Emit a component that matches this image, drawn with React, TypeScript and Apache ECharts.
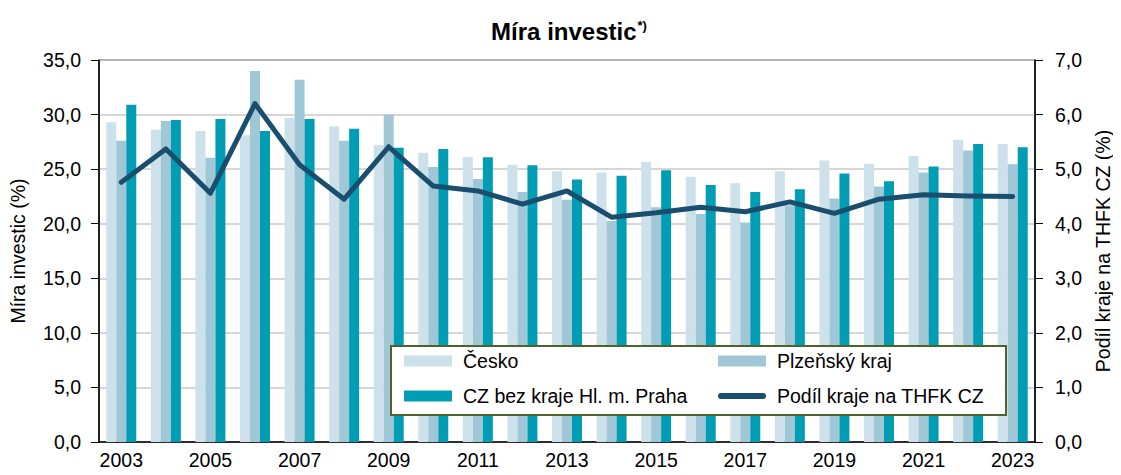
import React, { useEffect, useRef } from "react";
import * as echarts from "echarts";

const years = ["2003","2004","2005","2006","2007","2008","2009","2010","2011","2012","2013","2014","2015","2016","2017","2018","2019","2020","2021","2022","2023"];
const cesko = [29.3, 28.6, 28.5, 28.1, 29.7, 28.9, 27.2, 26.5, 26.1, 25.4, 24.8, 24.7, 25.65, 24.3, 23.7, 24.8, 25.8, 25.5, 26.2, 27.7, 27.3];
const plzen = [27.6, 29.4, 26.05, 34.0, 33.2, 27.6, 30.0, 25.2, 24.1, 22.9, 22.2, 20.25, 21.5, 20.9, 20.1, 21.7, 22.3, 23.4, 24.7, 26.7, 25.45];
const czBezPrahy = [30.9, 29.5, 29.6, 28.5, 29.6, 28.7, 26.95, 26.85, 26.1, 25.35, 24.05, 24.4, 24.9, 23.55, 22.9, 23.15, 24.6, 23.9, 25.25, 27.3, 27.0];
const podil = [4.76, 5.37, 4.56, 6.2, 5.08, 4.45, 5.41, 4.69, 4.6, 4.36, 4.6, 4.12, 4.2, 4.3, 4.22, 4.4, 4.19, 4.45, 4.53, 4.51, 4.5];

const FONT = "Liberation Sans, Arial, sans-serif";
const FS = 19.5;
const fmt = (v: number) => v.toFixed(1).replace(".", ",");

export default function App() {
  const ref = useRef<HTMLDivElement>(null);
  useEffect(() => {
    if (!ref.current) return;
    const chart = echarts.init(ref.current, null, { renderer: "svg" });
    const legendText = { fontSize: FS, color: "#000", padding: [0, 0, 0, 6], fontFamily: FONT };
    chart.setOption({
      animation: false,
      textStyle: { fontFamily: FONT },
      title: {
        text: "{a|Míra investic}{b|*)}",
        left: 564,
        textAlign: "center",
        top: 14,
        textStyle: {
          rich: {
            a: { fontSize: 24, fontWeight: "bold", color: "#000", fontFamily: FONT },
            b: { fontSize: 13, color: "#000", fontFamily: FONT, padding: [0, 0, 12, 1] },
          },
        },
      },
      grid: { left: 99, right: 78, top: 60, bottom: 33, show: true, borderColor: "#000", borderWidth: 1, backgroundColor: "transparent" },
      xAxis: {
        type: "category",
        data: years,
        axisLine: { lineStyle: { color: "#000", width: 1.5 } },
        axisTick: { show: false },
        axisLabel: { interval: 1, fontSize: FS, color: "#000", margin: 8, fontFamily: FONT },
      },
      yAxis: [
        {
          type: "value",
          min: 0,
          max: 35,
          interval: 5,
          name: "Míra investic (%)",
          nameLocation: "middle",
          nameGap: 71,
          nameTextStyle: { fontSize: FS, color: "#000", fontFamily: FONT },
          axisLine: { show: true, lineStyle: { color: "#000", width: 1.5 } },
          axisTick: { show: true, length: 8, lineStyle: { color: "#000" } },
          axisLabel: { formatter: fmt, fontSize: FS, color: "#000", margin: 18, fontFamily: FONT },
          splitLine: { lineStyle: { color: "#c8c8c8", width: 1.5 } },
        },
        {
          type: "value",
          min: 0,
          max: 7,
          interval: 1,
          position: "right",
          name: "Podíl kraje na THFK CZ (%)",
          nameLocation: "middle",
          nameGap: 56,
          nameRotate: 90,
          nameTextStyle: { fontSize: FS, color: "#000", fontFamily: FONT },
          axisLine: { show: true, lineStyle: { color: "#000", width: 1.5 } },
          axisTick: { show: true, length: 8, lineStyle: { color: "#000" } },
          axisLabel: { formatter: fmt, fontSize: FS, color: "#000", margin: 20, fontFamily: FONT },
          splitLine: { show: false },
        },
      ],
      graphic: [
        {
          type: "rect",
          left: 390,
          top: 345,
          z: 50,
          shape: { width: 615, height: 69 },
          style: { fill: "#fff", stroke: "#4f6228", lineWidth: 2 },
        },
      ],
      legend: [
        {
          orient: "vertical",
          left: 404,
          top: 351,
          z: 60,
          padding: 0,
          itemWidth: 48,
          itemHeight: 11,
          itemGap: 15,
          textStyle: legendText,
          data: [
            { name: "Česko", icon: "rect" },
            { name: "CZ bez kraje Hl. m. Praha", icon: "rect" },
          ],
        },
        {
          orient: "vertical",
          left: 718,
          top: 351,
          z: 60,
          padding: 0,
          itemWidth: 48,
          itemHeight: 11,
          itemGap: 15,
          textStyle: legendText,
          data: [
            { name: "Plzeňský kraj", icon: "rect" },
            { name: "Podíl kraje na THFK CZ", icon: "path://M3,0 L45,0 A3,3 0 0 1 45,6 L3,6 A3,3 0 0 1 3,0 Z" },
          ],
        },
      ],
      series: [
        { name: "Česko", type: "bar", data: cesko, barWidth: 10, barGap: "0%", itemStyle: { color: "#cde1ea" } },
        { name: "Plzeňský kraj", type: "bar", data: plzen, barWidth: 10, barGap: "0%", itemStyle: { color: "#a0c7d5" } },
        { name: "CZ bez kraje Hl. m. Praha", type: "bar", data: czBezPrahy, barWidth: 10, barGap: "0%", itemStyle: { color: "#009db5" } },
        {
          name: "Podíl kraje na THFK CZ",
          type: "line",
          yAxisIndex: 1,
          data: podil,
          symbol: "none",
          z: 10,
          lineStyle: { color: "#1a4e6e", width: 5, cap: "round", join: "round" },
          itemStyle: { color: "#1a4e6e" },
        },
      ],
    });
    return () => chart.dispose();
  }, []);
  return <div ref={ref} style={{ width: 1121, height: 475, margin: -8 }} />;
}
